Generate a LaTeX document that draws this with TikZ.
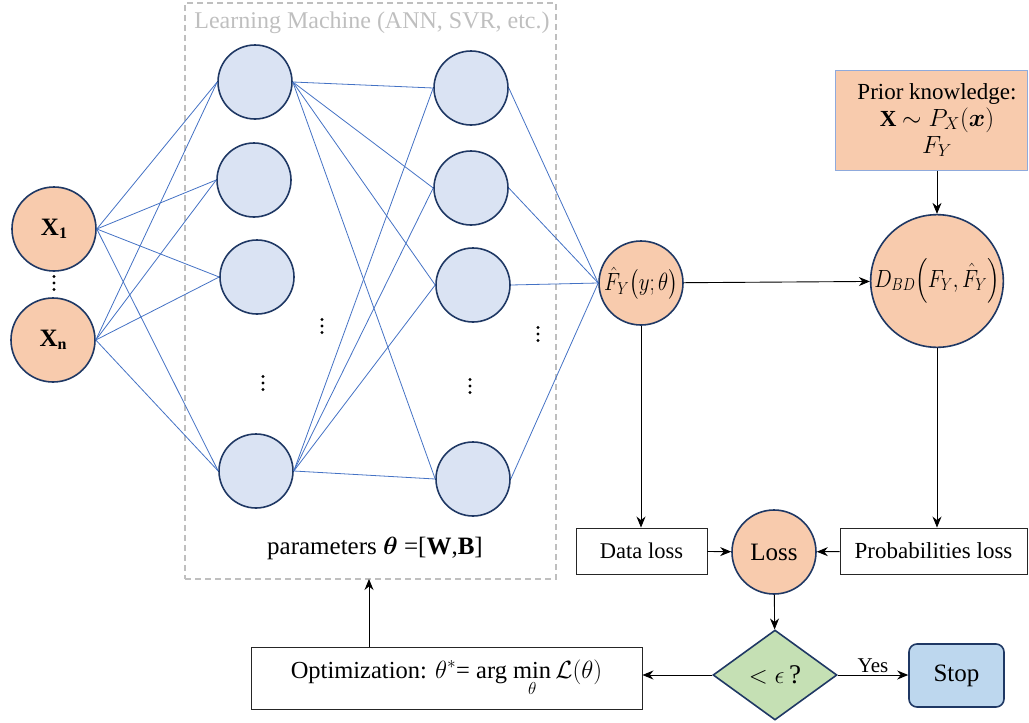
\documentclass[tikz,border=0pt]{standalone}
\usepackage{amsmath}
\usepackage{bm}
\usepackage{graphicx}
\usepackage{fontspec}
\setmainfont{Liberation Serif}
\usetikzlibrary{arrows.meta,shapes.geometric}

\definecolor{peach}{HTML}{F8CBAD}
\definecolor{navy}{HTML}{1F3864}
\definecolor{paleblue}{HTML}{DAE3F3}
\definecolor{wireblue}{HTML}{4472C4}
\definecolor{mint}{HTML}{C5E0B4}
\definecolor{stopblue}{HTML}{BDD7EE}
\definecolor{framegray}{HTML}{BFBFBF}
\definecolor{priorline}{HTML}{8FAADC}

\newcommand{\dotcolumn}[1]{%
  \foreach \dd in {-6.5,0,6.5}{\fill (#1) ++(0,\dd) circle (1.7pt);}}

\begin{document}
\begin{tikzpicture}[x=1pt,y=-1pt,
  every node/.style={font=\fontsize{22.5}{26}\selectfont},
  neuron/.style={circle,draw=navy,line width=1.6pt,fill=paleblue,minimum size=74pt,inner sep=0pt},
  peachnode/.style={circle,draw=navy,line width=1.6pt,fill=peach,minimum size=84pt,inner sep=0pt},
  wire/.style={draw=wireblue,line width=0.8pt},
  flow/.style={draw=black,line width=0.9pt,-{Stealth[length=11pt,width=9pt]}},
  plainbox/.style={rectangle,draw=black!85,line width=0.9pt,fill=white,inner sep=0pt}
]
\useasboundingbox (0,0) rectangle (1029,723);

% learning machine frame
\node[rectangle,draw=framegray,line width=1.3pt,dash pattern=on 6pt off 4pt,
      minimum width=371pt,minimum height=576pt,inner sep=0pt] (lm) at (370.5,291) {};
\node[text=framegray,font=\fontsize{24}{24}\selectfont] (lmlabel) at (372,23)
  {Learning Machine (ANN, SVR, etc.)};
\node[font=\fontsize{25}{25}\selectfont] (params) at (375,548)
  {parameters $\boldsymbol{\theta}$ =[\textbf{W},\textbf{B}]};

% inputs
\node[peachnode] (x1) at (54,229)
  {\fontsize{25}{25}\selectfont\textbf{X}\raisebox{-3pt}{\fontsize{16}{16}\selectfont\textbf{1}}};
\node[peachnode] (xn) at (53,340)
  {\raisebox{-8pt}{\fontsize{25}{25}\selectfont\textbf{X}\raisebox{-3pt}{\fontsize{16}{16}\selectfont\textbf{n}}}};

% hidden layers
\node[neuron] (h11) at (255,82)  {};
\node[neuron] (h12) at (254,180) {};
\node[neuron] (h13) at (257,277) {};
\node[neuron] (h14) at (256,471) {};
\node[neuron] (h21) at (471,88)  {};
\node[neuron] (h22) at (471,188) {};
\node[neuron] (h23) at (473,285) {};
\node[neuron] (h24) at (473,479) {};

% output and divergence
\node[peachnode] (fhat) at (641,283)
  {\scalebox{0.84}[1]{\fontsize{26}{26}\selectfont$\hat{F}_Y\bigl(y;\theta\bigr)$}};
\node[peachnode,minimum size=124pt] (dbd) at (937,281)
  {\scalebox{0.84}[1]{\fontsize{24}{24}\selectfont$D_{BD}\Bigl(F_Y,\hat{F}_Y\Bigr)$}};

\node[rectangle,draw=priorline,line width=1pt,fill=peach,minimum width=192pt,
      minimum height=100pt,align=center,inner sep=0pt,
      font=\fontsize{23}{27}\selectfont] (prior) at (931,120)
  {\hspace*{12pt}Prior knowledge:\\ \hspace*{12pt}\textbf{X} $\sim P_X(\boldsymbol{x})$\\ \hspace*{12pt}$F_Y$};

% losses
\node[plainbox,minimum width=131pt,minimum height=46pt] (dloss) at (641.5,551) {Data loss};
\node[peachnode,font=\fontsize{25}{25}\selectfont] (loss) at (774,552) {Loss};
\node[plainbox,minimum width=187pt,minimum height=46pt,font=\fontsize{23}{23}\selectfont]
  (ploss) at (933.5,551) {Probabilities loss};

% decision and outcomes
\node[diamond,draw=navy,line width=1.6pt,fill=mint,minimum width=124pt,minimum height=90pt,
      inner sep=0pt,font=\fontsize{27}{27}\selectfont] (check) at (775,675) {$<\epsilon$\,?};
\node[plainbox,minimum width=391pt,minimum height=62pt,font=\fontsize{24.5}{24.5}\selectfont]
  (opt) at (446.5,678)
  {Optimization: $\theta^{*}$= arg $\mathop{\textrm{min}}\limits_{\theta}\mathcal{L}(\theta)$};
\node[rectangle,rounded corners=8pt,draw=navy,line width=1.6pt,fill=stopblue,
      minimum width=95pt,minimum height=63pt,font=\fontsize{25}{25}\selectfont]
  (stop) at (956.5,675.5) {Stop};

% ellipsis dots
\coordinate (din) at (54,283);
\coordinate (da) at (322,326);
\coordinate (db) at (263,383);
\coordinate (dc) at (538,334);
\coordinate (dd) at (470,386);
\dotcolumn{din}
\dotcolumn{da}
\dotcolumn{db}
\dotcolumn{dc}
\dotcolumn{dd}

% network wiring
\foreach \i in {x1,xn}
  \foreach \j in {h11,h12,h13,h14}
    \draw[wire] (\i.east) -- (\j.west);
\foreach \i in {h11,h14}
  \foreach \j in {h21,h22,h23,h24}
    \draw[wire] (\i.east) -- (\j.west);
\foreach \i in {h21,h22,h23,h24}
  \draw[wire] (\i.east) -- (fhat.west);

% process flow
\draw[flow] (fhat) -- (dbd);
\draw[flow] (prior.south -| dbd) -- (dbd);
\draw[flow] (fhat) -- (fhat |- dloss.north);
\draw[flow] (dbd) -- (dbd |- ploss.north);
\draw[flow] (dloss) -- (loss);
\draw[flow] (ploss) -- (loss);
\draw[flow] (loss) -- (check);
\draw[flow] (check.west) -- (opt.east |- check.west);
\draw[flow] (check.east) -- (stop.west |- check.east)
  node[midway,above,font=\fontsize{21}{21}\selectfont,yshift=-1pt] (yes) {Yes};
\coordinate (lmfoot) at (369,579);
\draw[flow] (opt.north -| lmfoot) -- (lmfoot);
\end{tikzpicture}
\end{document}
